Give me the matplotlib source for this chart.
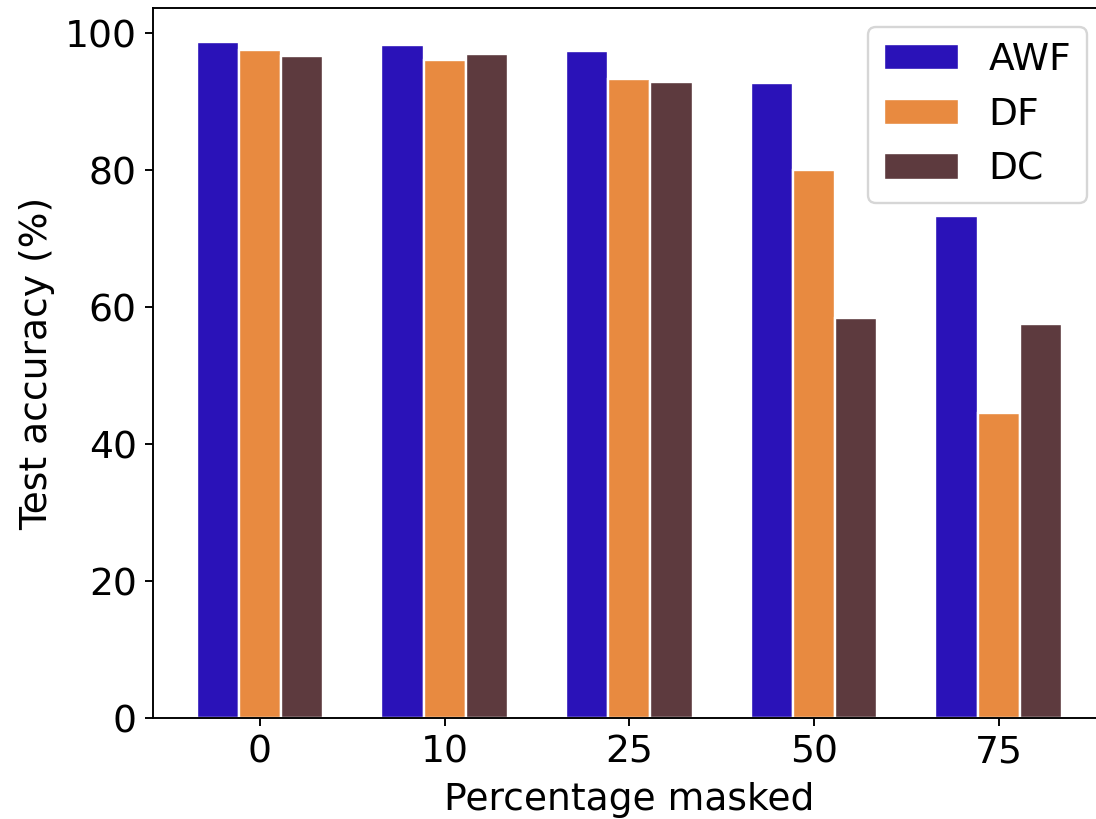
import numpy as np
import matplotlib
matplotlib.use('Agg')
import matplotlib.pyplot as plt

masked = ['0', '10', '25', '50', '75']
awf = [98.7, 98.3, 97.4, 92.7, 73.3]
df = [97.5, 96.1, 93.3, 80.0, 44.5]
dc = [96.7, 96.9, 92.8, 58.4, 57.6]

plt.rcParams['font.size'] = 15.8

fig = plt.figure(figsize=(6.4, 4.7825), dpi=171.25)
ax = fig.add_axes([0.1399, 0.1230, 0.8686, 0.8669])

x = np.arange(len(masked))
w = 0.2285
ax.bar(x - w, awf, w, color='#2a12b8', edgecolor='white', label='AWF')
ax.bar(x, df, w, color='#e88a40', edgecolor='white', label='DF')
ax.bar(x + w, dc, w, color='#5d3a3e', edgecolor='white', label='DC')

ax.set_xticks(x)
ax.set_xticklabels(masked)
ax.set_xlabel('Percentage masked', labelpad=4.5)
ax.set_ylabel('Test accuracy (%)')
ax.spines['right'].set_visible(False)
ax.legend(loc='upper right')

fig.savefig('out.png', dpi=171.25)
